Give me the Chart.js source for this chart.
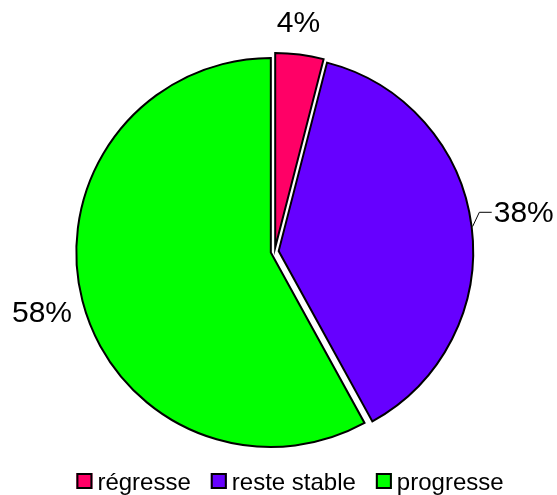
<!DOCTYPE html>
<html>
<head>
<meta charset="utf-8">
<script src="https://cdn.jsdelivr.net/npm/chart.js@4.4.0/dist/chart.umd.min.js"></script>
<style>
  html, body { margin: 0; padding: 0; background: #ffffff; }
  #wrap { width: 557px; height: 495px; }
</style>
</head>
<body>
<div id="wrap"><canvas id="c" width="557" height="495"></canvas></div>
<script>
// Data
const categories = ['régresse', 'reste stable', 'progresse'];
const shares = [4, 38, 58];
const valueLabels = shares.map(v => v + '%');
const sliceColors = ['#FF0066', '#6600FF', '#00FF00'];

// Styling
const FONT = '"Liberation Sans", Arial, Helvetica, sans-serif';
const EXPLODE = 4;          // distance each slice is pulled out along its bisector
const BORDER = 2;

// Where each value label sits relative to the outer edge of its slice
const labelPlacement = [
  { dx: -1.2, dy: -21.6, align: 'center' },
  { dx: 21.1, dy: -4.8, align: 'left', leader: true },
  { dx: -39.5, dy: 20.6, align: 'center' }
];

// Draws each slice shifted outward along its mid angle
const explodedSlices = {
  id: 'explodedSlices',
  beforeDatasetDraw(chart, args) {
    const ctx = chart.ctx;
    args.meta.data.forEach(arc => {
      const mid = (arc.startAngle + arc.endAngle) / 2;
      ctx.save();
      ctx.translate(Math.cos(mid) * EXPLODE, Math.sin(mid) * EXPLODE);
      arc.draw(ctx, chart.chartArea);
      ctx.restore();
    });
    return false;
  }
};

// Percentage labels outside the slices
const sliceLabels = {
  id: 'sliceLabels',
  afterDatasetsDraw(chart) {
    const ctx = chart.ctx;
    const meta = chart.getDatasetMeta(0);
    ctx.save();
    ctx.font = '30px ' + FONT;
    ctx.fillStyle = '#000';
    ctx.textBaseline = 'alphabetic';
    meta.data.forEach((arc, i) => {
      const mid = (arc.startAngle + arc.endAngle) / 2;
      const r = arc.outerRadius + BORDER / 2 + EXPLODE;
      const ex = arc.x + Math.cos(mid) * r;
      const ey = arc.y + Math.sin(mid) * r;
      const p = labelPlacement[i];
      const tx = ex + p.dx;
      const ty = ey + p.dy;
      if (p.leader) {
        ctx.beginPath();
        ctx.lineWidth = 1;
        ctx.strokeStyle = '#000';
        ctx.moveTo(ex, ey);
        ctx.lineTo(tx - 14.4, ty - 9.4);
        ctx.lineTo(tx - 2, ty - 9.4);
        ctx.stroke();
      }
      ctx.textAlign = p.align;
      ctx.fillText(valueLabels[i], tx, ty);
    });
    ctx.restore();
  }
};

// Legend row under the pie
const legendRow = {
  id: 'legendRow',
  afterDraw(chart) {
    const ctx = chart.ctx;
    const box = 16, textGap = 5, itemGap = 20;
    const centerX = 290, boxTop = 473, baseline = 489.5;
    ctx.save();
    ctx.font = '24px ' + FONT;
    const widths = categories.map(t => ctx.measureText(t).width);
    const total = widths.reduce((s, w) => s + box + textGap + w, 0) + itemGap * (categories.length - 1);
    let x = centerX - total / 2;
    categories.forEach((name, i) => {
      ctx.fillStyle = sliceColors[i];
      ctx.fillRect(x, boxTop, box, box);
      ctx.lineWidth = 2;
      ctx.strokeStyle = '#000';
      ctx.strokeRect(x + 1, boxTop + 1, box - 2, box - 2);
      ctx.fillStyle = '#000';
      ctx.textAlign = 'left';
      ctx.textBaseline = 'alphabetic';
      ctx.fillText(name, x + box + textGap, baseline);
      x += box + textGap + widths[i] + itemGap;
    });
    ctx.restore();
  }
};

new Chart(document.getElementById('c'), {
  type: 'pie',
  data: {
    labels: categories,
    datasets: [{
      data: shares,
      backgroundColor: sliceColors,
      borderColor: '#000000',
      borderWidth: BORDER,
      hoverBorderWidth: BORDER,
      borderJoinStyle: 'miter',
      offset: 0,
      hoverOffset: 0
    }]
  },
  options: {
    responsive: false,
    animation: false,
    events: [],
    layout: { padding: { top: 56, bottom: 48, left: 0, right: 7.6 } },
    plugins: {
      legend: { display: false },
      tooltip: { enabled: false },
      title: { display: false }
    }
  },
  plugins: [explodedSlices, sliceLabels, legendRow]
});
</script>
</body>
</html>
